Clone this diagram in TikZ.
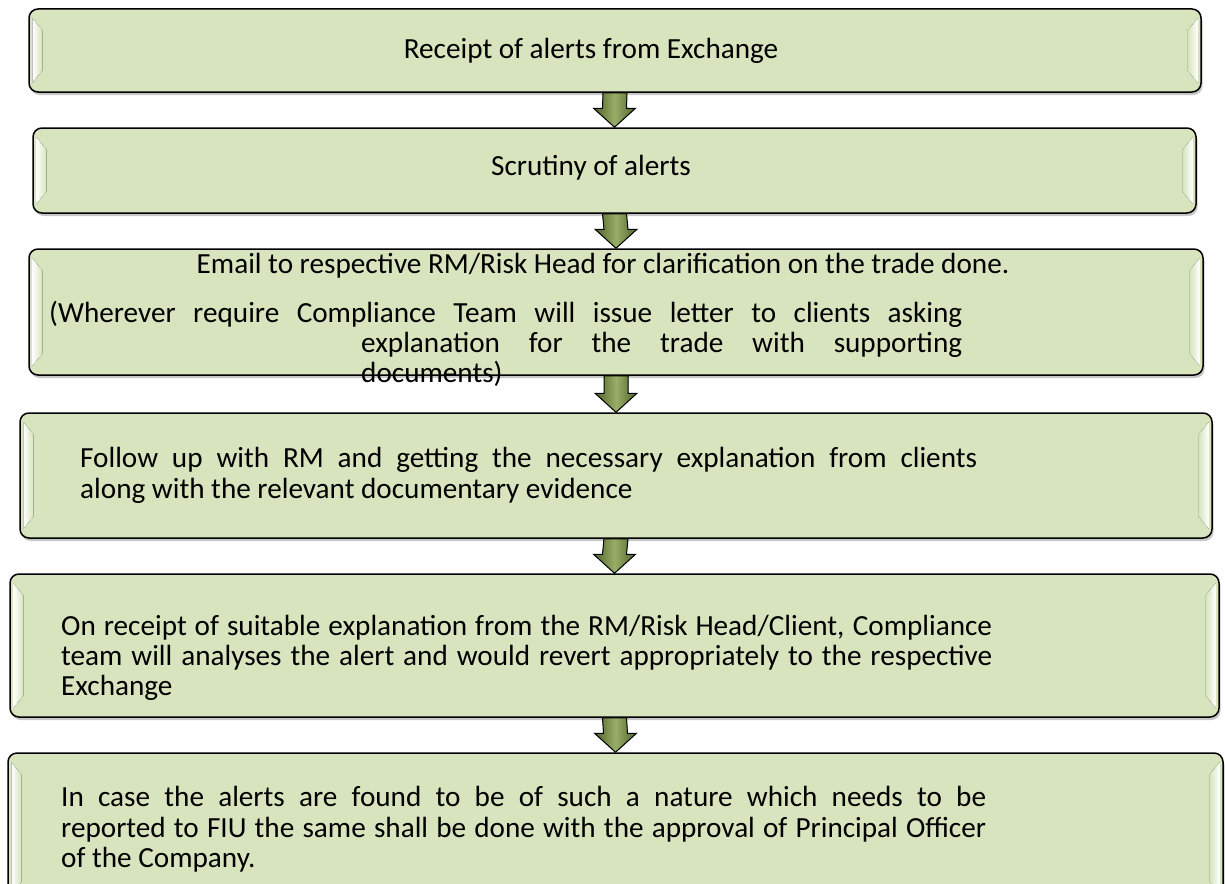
\documentclass[tikz,border=0pt]{standalone}
\usepackage{fontspec}
\setmainfont{Carlito}
\usetikzlibrary{calc,shadows}
\definecolor{boxgreen}{HTML}{D7E4BD}
\definecolor{arrowdark}{HTML}{4F6328}
\definecolor{arrowlight}{HTML}{98AE68}
\newcommand{\bodyfont}{\fontsize{29.2}{30}\selectfont}
\tikzset{
  flowbox/.style={draw=black, line width=1.5pt, rounded corners=9pt, fill=boxgreen,
    inner sep=0pt, drop shadow={shadow xshift=1.5pt, shadow yshift=-3pt, opacity=0.22, fill=black}},
  txt/.style={inner sep=0pt, anchor=base west, font=\bodyfont, text=black},
  ctxt/.style={txt, anchor=base},
  flowarrow/.style={draw=black, line width=1pt, left color=arrowdark, right color=arrowdark, middle color=arrowlight},
  glossl/.style={left color=white, right color=boxgreen},
  glossr/.style={right color=white, left color=boxgreen}
}
\newcommand{\glossy}[1]{%
  \fill[glossl] ($(#1.north west)+(4,10)$) -- ($(#1.north west)+(14,22)$) -- ($(#1.south west)+(14,-22)$) -- ($(#1.south west)+(4,-10)$) -- cycle;
  \fill[glossr] ($(#1.north east)+(-4,10)$) -- ($(#1.north east)+(-14,22)$) -- ($(#1.south east)+(-14,-22)$) -- ($(#1.south east)+(-4,-10)$) -- cycle;}
\newcommand{\flowarrowdraw}[2]{%
  \filldraw[flowarrow] ($(#1.south)+(-12,0)$) -- ($(#2.north)+(-12,-19)$) -- ($(#2.north)+(-21,-19)$) -- (#2.north) -- ($(#2.north)+(21,-19)$) -- ($(#2.north)+(12,-19)$) -- ($(#1.south)+(12,0)$) -- cycle;}
\begin{document}
\begin{tikzpicture}[x=1pt,y=-1pt]
\path[use as bounding box, clip] (0,0) rectangle (1225,883);
\fill[white] (0,0) rectangle (1225,883);
% boxes
\node[flowbox, minimum width=1172pt, minimum height=83pt] (b1) at (615,50.5) {};
\node[flowbox, minimum width=1163pt, minimum height=85pt] (b2) at (614.5,170.5) {};
\node[flowbox, minimum width=1174pt, minimum height=126pt] (b3) at (616,312) {};
\node[flowbox, minimum width=1192pt, minimum height=125pt] (b4) at (616,475.5) {};
\node[flowbox, minimum width=1209pt, minimum height=143pt] (b5) at (614.5,645.5) {};
\node[flowbox, minimum width=1215pt, minimum height=150pt] (b6) at (615.5,828) {};
\glossy{b1}\glossy{b2}\glossy{b3}\glossy{b4}\glossy{b5}\glossy{b6}
% arrows
\flowarrowdraw{b1}{b2}
\flowarrowdraw{b2}{b3}
\flowarrowdraw{b3}{b4}
\flowarrowdraw{b4}{b5}
\flowarrowdraw{b5}{b6}
% texts
\node[ctxt] (t1) at (591,59) {Receipt of alerts from Exchange};
\node[ctxt] (t2) at (591,175) {Scrutiny of alerts};
\node[ctxt] (t3a) at (603,273) {Email to respective RM/Risk Head for clarification on the trade done.};
\node[txt] (t3b) at (49,322) {\makebox[913pt][s]{(Wherever require Compliance Team will issue letter to clients asking}};
\node[txt] (t3c) at (361,352) {\makebox[601pt][s]{explanation for the trade with supporting}};
\node[txt] (t3d) at (361,382) {documents)};
\node[txt] (t4a) at (80,467) {\makebox[897pt][s]{Follow up with RM and getting the necessary explanation from clients}};
\node[txt] (t4b) at (80,498) {along with the relevant documentary evidence};
\node[txt] (t5a) at (61,635) {\makebox[931pt][s]{On receipt of suitable explanation from the RM/Risk Head/Client, Compliance}};
\node[txt] (t5b) at (61,665) {\makebox[931pt][s]{team will analyses the alert and would revert appropriately to the respective}};
\node[txt] (t5c) at (61,695) {Exchange};
\node[txt] (t6a) at (61,806) {\makebox[925pt][s]{In case the alerts are found to be of such a nature which needs to be}};
\node[txt] (t6b) at (61,837) {\makebox[925pt][s]{reported to FIU the same shall be done with the approval of Principal Officer}};
\node[txt] (t6c) at (61,867) {of the Company.};
\end{tikzpicture}
\end{document}
